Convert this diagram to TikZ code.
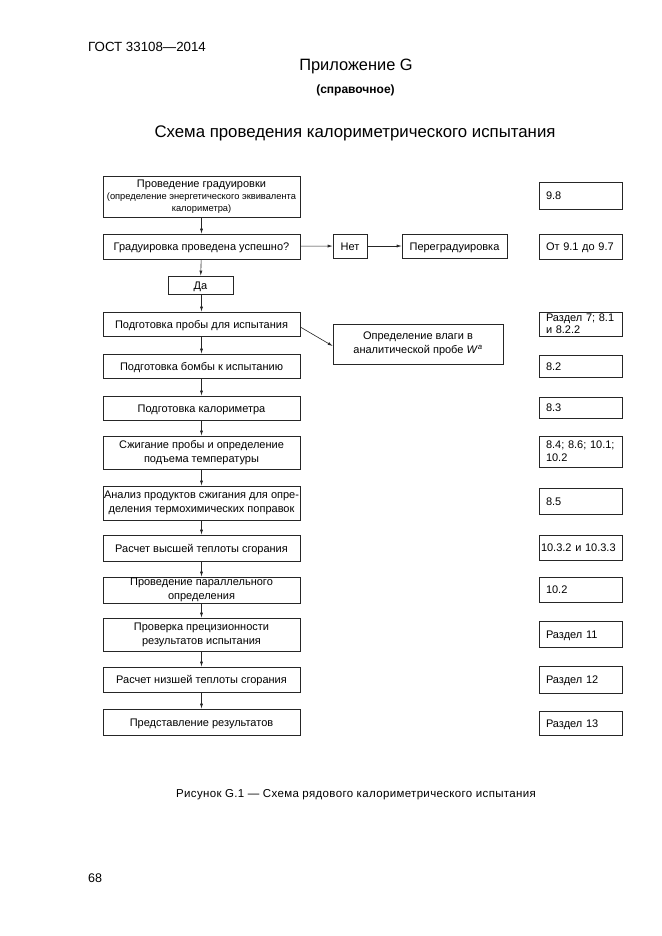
\documentclass[tikz,border=0pt]{standalone}
\usepackage{fontspec}
\setmainfont{Liberation Sans}
\usetikzlibrary{arrows.meta}
\begin{document}
\begin{tikzpicture}[x=1pt,y=-1pt,
  box/.style={draw=black!85,line width=0.6pt,inner sep=1pt,align=center,font=\fontsize{11}{14}\selectfont},
  lbox/.style={box,minimum width=197pt},
  one/.style={text height=8pt,text depth=0pt},
  rbox/.style={draw=black!85,line width=0.6pt,inner ysep=0pt,inner xsep=7pt,minimum width=83pt,text width=69pt,align=left,font=\fontsize{11}{13}\selectfont},
  arr/.style={draw=black!85,line width=0.6pt,-{Latex[length=5pt,width=3pt]}},
  hdr/.style={inner sep=0pt,anchor=west}]
\useasboundingbox (0,0) rectangle (661,936);
\fill[white] (0,0) rectangle (661,936);
% header
\node[hdr,font=\fontsize{13.3}{15}\selectfont] (gost) at (88,47) {ГОСТ 33108—2014};
\node[inner sep=0pt,font=\fontsize{16.4}{18}\selectfont] (app) at (356,66) {Приложение G};
\node[inner sep=0pt,font=\fontsize{12}{14}\selectfont\bfseries] (ref) at (355.5,90) {(справочное)};
\node[inner sep=0pt,font=\fontsize{16.8}{19}\selectfont] (title) at (355,133) {Схема проведения калориметрического испытания};
% left column
\node[lbox,minimum height=41pt] (b1) at (201.5,196.5) {Проведение градуировки\\[-2pt]{\fontsize{9.3}{11.5}\selectfont(определение энергетического эквивалента}\\[-2pt]{\fontsize{9.3}{11.5}\selectfont калориметра)}};
\node[lbox,one,minimum height=25pt] (b2) at (201.5,246.5) {Градуировка проведена успешно?};
\node[box,one,minimum width=65pt,minimum height=18pt] (yes) at (200.5,285) {Да};
\node[box,one,minimum width=34pt,minimum height=24pt] (no) at (350,246) {Нет};
\node[box,one,minimum width=105pt,minimum height=24pt] (regr) at (454.5,246) {Переградуировка};
\node[lbox,one,minimum height=24pt] (b3) at (201.5,324) {Подготовка пробы для испытания};
\node[box,minimum width=170pt,minimum height=40pt] (wet) at (418,344) {Определение влаги в\\аналитической пробе \textit{W}\textsuperscript{\textit{a}}};
\node[lbox,one,minimum height=24pt] (b4) at (201.5,366) {Подготовка бомбы к испытанию};
\node[lbox,one,minimum height=24pt] (b5) at (201.5,408) {Подготовка калориметра};
\node[lbox,minimum height=33pt] (b6) at (201.5,452.5) {Сжигание пробы и определение\\подъема температуры};
\node[lbox,minimum height=34pt,inner sep=0pt] (b7) at (201.5,503) {Анализ продуктов сжигания для опре-\\деления термохимических поправок};
\node[lbox,one,minimum height=26pt] (b8) at (201.5,548) {Расчет высшей теплоты сгорания};
\node[lbox,minimum height=26pt] (b9) at (201.5,590) {Проведение параллельного\\определения};
\node[lbox,minimum height=33pt] (b10) at (201.5,634.5) {Проверка прецизионности\\результатов испытания};
\node[lbox,one,minimum height=25pt] (b11) at (201.5,679.5) {Расчет низшей теплоты сгорания};
\node[lbox,one,minimum height=26pt] (b12) at (201.5,722) {Представление результатов};
% right column
\node[rbox,one,minimum height=27pt] (r1) at (580.5,195.5) {9.8};
\node[rbox,one,minimum height=25pt] (r2) at (580.5,246.5) {От 9.1 до 9.7};
\node[rbox,minimum height=24pt,text width=76pt,inner xsep=3.5pt] (r3) at (580.5,324) {\hspace*{3.5pt}Раздел 7; 8.1\\[-1pt]\hspace*{3.5pt}и 8.2.2};
\node[rbox,one,minimum height=22pt] (r4) at (580.5,366) {8.2};
\node[rbox,one,minimum height=21pt] (r5) at (580.5,407.5) {8.3};
\node[rbox,minimum height=31pt,text width=76pt,inner xsep=3.5pt] (r6) at (580.5,451.5) {\hspace*{3.5pt}8.4; 8.6; 10.1;\\\hspace*{3.5pt}10.2};
\node[rbox,one,minimum height=26pt] (r7) at (580.5,501) {8.5};
\node[rbox,one,minimum height=25pt,text width=82pt,inner xsep=0.5pt] (r8) at (580.5,547.5) {\hspace*{1.5pt}10.3.2 и 10.3.3};
\node[rbox,one,minimum height=25pt] (r9) at (580.5,589.5) {10.2};
\node[rbox,one,minimum height=26pt] (r10) at (580.5,634) {Раздел 11};
\node[rbox,one,minimum height=27pt] (r11) at (580.5,679.5) {Раздел 12};
\node[rbox,one,minimum height=24pt] (r12) at (580.5,723) {Раздел 13};
% arrows
\draw[arr] (b1) -- (b2);
\draw[arr] (b2) -- (yes);
\draw[arr] (b2.south |- yes.south) -- (b3);
\draw[arr] (b2) -- (no);
\draw[arr] (no) -- (regr);
\draw[arr] ([yshift=-3pt]b3.east) -- ([yshift=-2pt]wet.west);
\draw[arr] (b3) -- (b4);
\draw[arr] (b4) -- (b5);
\draw[arr] (b5) -- (b6);
\draw[arr] (b6) -- (b7);
\draw[arr] (b7) -- (b8);
\draw[arr] (b8) -- (b9);
\draw[arr] (b9) -- (b10);
\draw[arr] (b10) -- (b11);
\draw[arr] (b11) -- (b12);
% caption
\node[inner sep=0pt,font=\fontsize{11.5}{13}\selectfont\addfontfeature{LetterSpace=3}] (cap) at (356,795) {Рисунок G.1 — Схема рядового калориметрического испытания};
\node[hdr,font=\fontsize{12.5}{14}\selectfont] (page) at (88,878) {68};
\end{tikzpicture}
\end{document}
